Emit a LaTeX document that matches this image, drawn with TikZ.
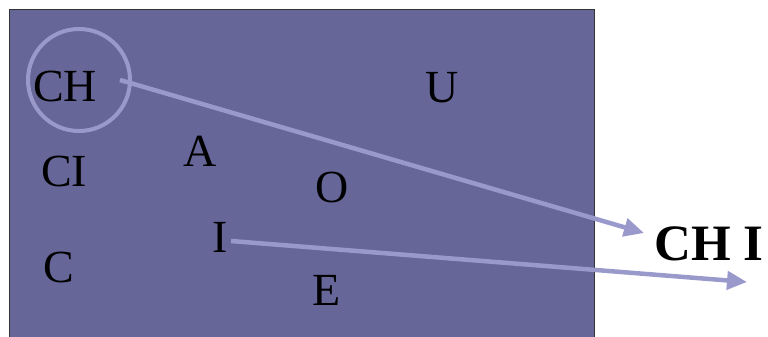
\documentclass[tikz,border=0pt]{standalone}
\usepackage{fontspec}
\setmainfont{Liberation Serif}
\usetikzlibrary{arrows.meta}
\definecolor{slate}{HTML}{666699}
\definecolor{lilac}{HTML}{9999CC}
\tikzset{
    letter/.style={
        inner sep=0pt, font=\fontsize{46}{46}\selectfont
    },
    result/.style={
        inner sep=0pt, font=\fontsize{51}{51}\selectfont\bfseries
    },
    pp/.style={
        lilac, line width=4.5pt, -{Triangle[length=20pt, width=18pt]}
    }
}
\begin{document}
\begin{tikzpicture}[x=1pt, y=-1pt]
        \useasboundingbox (0,0) rectangle (768,337);
        \fill[slate] (9,10) rectangle (594,340);
        \draw[black!80, line width=1pt] (9,340) -- (9,10) -- (594,10) -- (594,340);

        \node[letter] (CH) at (65,86) {CH};
        \node[letter] (U)  at (442,88) {U};
        \node[letter] (A)  at (200,151) {A};
        \node[letter] (CI) at (64,171) {CI};
        \node[letter] (O)  at (332,187) {O};
        \node[letter] (I)  at (220,237) {I};
        \node[letter] (C)  at (59,267) {C};
        \node[letter] (E)  at (327,290) {E};

        \node[result] (CHI) at (709,244) {CH I};

        \draw[lilac, line width=4pt] (79,80) circle (51);

        \coordinate (tipa) at (644,233);
        \coordinate (tipb) at (747,282);
        \coordinate (taila) at (120,80);
        \coordinate (tailb) at (231,241);

        \draw[pp] (taila) -- (tipa);
        \draw[pp] (tailb) -- (tipb);
\end{tikzpicture}
\end{document}
